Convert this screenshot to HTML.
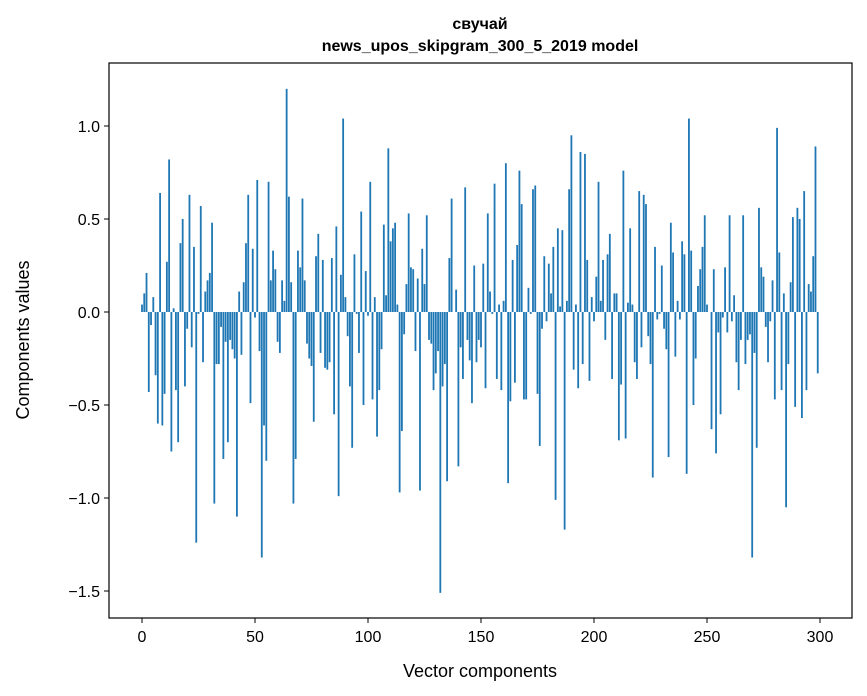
<!DOCTYPE html>
<html><head><meta charset="utf-8"><style>
html,body{margin:0;padding:0;background:#fff;}
svg{display:block;font-family:"Liberation Sans","DejaVu Sans",sans-serif;}
</style></head><body>
<svg id="chart" width="867" height="696" viewBox="0 0 867 696">
<rect x="0" y="0" width="867" height="696" fill="#fff"/>
<text x="480" y="29" text-anchor="middle" font-size="16" font-weight="bold">свучай</text>
<text x="480" y="51" text-anchor="middle" font-size="16" font-weight="bold">news_upos_skipgram_300_5_2019 model</text>
<g id="bars"></g>
<g id="xticks"></g>
<g id="yticks"></g>
<rect x="109" y="63" width="743" height="555" fill="none" stroke="#000" stroke-width="1.2"/>
<text x="480" y="677" text-anchor="middle" font-size="18">Vector components</text>
<text transform="translate(29,340) rotate(-90)" text-anchor="middle" font-size="18">Components values</text>
</svg>
<script>
const values = [
0.04,0.1,0.21,-0.43,-0.07,0.08,-0.34,-0.6,0.64,-0.61,
-0.44,0.27,0.82,-0.75,0.02,-0.42,-0.7,0.37,0.5,-0.4,
-0.09,0.63,-0.19,0.35,-1.24,-0.01,0.57,-0.27,0.11,0.17,
0.21,0.48,-1.03,-0.28,-0.28,-0.08,-0.79,-0.16,-0.7,-0.15,
-0.2,-0.25,-1.1,0.11,-0.23,0.16,0.37,0.63,-0.49,0.34,
-0.03,0.71,-0.21,-1.32,-0.61,-0.8,0.7,0.17,0.33,0.23,
-0.16,-0.22,0.17,0.06,1.2,0.62,0.16,-1.03,-0.79,0.33,
0.24,0.61,0.17,-0.17,-0.25,-0.29,-0.59,0.3,0.42,-0.22,
0.28,-0.3,-0.31,-0.27,0.29,-0.55,0.46,-0.99,0.2,1.04,
0.08,-0.13,-0.4,-0.73,0.31,-0.01,-0.22,0.54,-0.5,0.22,
-0.02,0.7,-0.47,0.08,-0.67,-0.42,-0.2,0.47,0.09,0.88,
0.38,0.45,0.48,0.04,-0.97,-0.64,-0.12,0.15,0.53,0.24,
0.23,-0.21,0.18,-0.96,0.34,0.15,0.52,-0.15,-0.17,-0.42,
-0.33,-0.21,-1.51,-0.4,-0.28,-0.91,0.29,0.61,0.0,0.12,
-0.83,-0.19,-0.36,0.67,-0.15,-0.26,-0.49,0.25,-0.27,-0.15,
-0.19,0.26,-0.41,0.53,0.11,-0.01,0.69,-0.36,0.04,-0.42,
0.06,0.8,-0.92,-0.48,0.28,-0.38,0.36,0.76,0.58,-0.47,
-0.47,0.13,-0.01,0.66,0.68,-0.44,-0.72,-0.09,0.3,-0.05,
0.26,0.1,0.35,-1.01,0.45,0.03,0.44,-1.17,0.06,0.66,
0.95,-0.31,0.04,-0.41,0.86,-0.28,0.85,0.28,-0.37,0.08,
-0.05,0.19,0.7,0.06,0.28,-0.15,0.31,0.42,-0.36,0.1,
0.1,-0.69,-0.39,0.76,-0.68,0.05,0.45,0.04,-0.27,-0.36,
0.65,-0.19,0.63,0.58,-0.13,-0.28,-0.89,0.35,-0.04,-0.01,
0.25,-0.09,-0.2,-0.78,0.48,0.32,-0.24,0.06,-0.04,0.38,
0.31,-0.87,1.04,0.33,-0.5,-0.25,0.14,0.23,0.35,0.52,
0.04,0.0,-0.63,0.23,-0.76,-0.11,-0.55,-0.03,0.24,-0.11,
0.52,-0.05,0.09,-0.27,-0.42,-0.15,0.52,-0.28,-0.15,-0.12,
-1.32,-0.22,-0.73,0.56,0.24,0.19,-0.08,-0.27,-0.05,0.17,
-0.47,0.99,0.32,-0.42,0.1,-1.05,-0.28,0.16,0.51,-0.51,
0.56,0.5,-0.57,0.65,-0.42,0.15,0.11,0.3,0.89,-0.33
];
const xTicks = [0,50,100,150,200,250,300];
const yTicks = [-1.5,-1.0,-0.5,0.0,0.5,1.0];
const yTickLabels = ["\u22121.5","\u22121.0","\u22120.5","0.0","0.5","1.0"];

const NS = "http://www.w3.org/2000/svg";
function xScale(i){ return 142 + i * 2.26; }
function yScale(v){ return 312 - v * 186; }
const barW = 0.8 * 2.26;

const gb = document.getElementById('bars');
values.forEach((v, i) => {
  const r = document.createElementNS(NS, 'rect');
  const y0 = yScale(0), y1 = yScale(v);
  r.setAttribute('x', xScale(i) - barW / 2);
  r.setAttribute('y', Math.min(y0, y1));
  r.setAttribute('width', barW);
  r.setAttribute('height', Math.abs(y1 - y0));
  r.setAttribute('fill', '#1f77b4');
  
  
  gb.appendChild(r);
});

const gx = document.getElementById('xticks');
xTicks.forEach(t => {
  const x = xScale(t);
  const l = document.createElementNS(NS, 'line');
  l.setAttribute('x1', x); l.setAttribute('x2', x);
  l.setAttribute('y1', 618); l.setAttribute('y2', 623);
  l.setAttribute('stroke', '#000');
  
  
  gx.appendChild(l);
  const tx = document.createElementNS(NS, 'text');
  tx.setAttribute('x', x); tx.setAttribute('y', 642);
  tx.setAttribute('text-anchor', 'middle');
  tx.setAttribute('font-size', '16');
  tx.textContent = t;
  
  
  gx.appendChild(tx);
});

const gy = document.getElementById('yticks');
yTicks.forEach((t, k) => {
  const y = yScale(t);
  const l = document.createElementNS(NS, 'line');
  l.setAttribute('x1', 104); l.setAttribute('x2', 109);
  l.setAttribute('y1', y); l.setAttribute('y2', y);
  l.setAttribute('stroke', '#000');
  
  
  gy.appendChild(l);
  const tx = document.createElementNS(NS, 'text');
  tx.setAttribute('x', 100); tx.setAttribute('y', y + 6);
  tx.setAttribute('text-anchor', 'end');
  tx.setAttribute('font-size', '16');
  tx.textContent = yTickLabels[k];
  
  
  gy.appendChild(tx);
});
</script>
</body></html>
